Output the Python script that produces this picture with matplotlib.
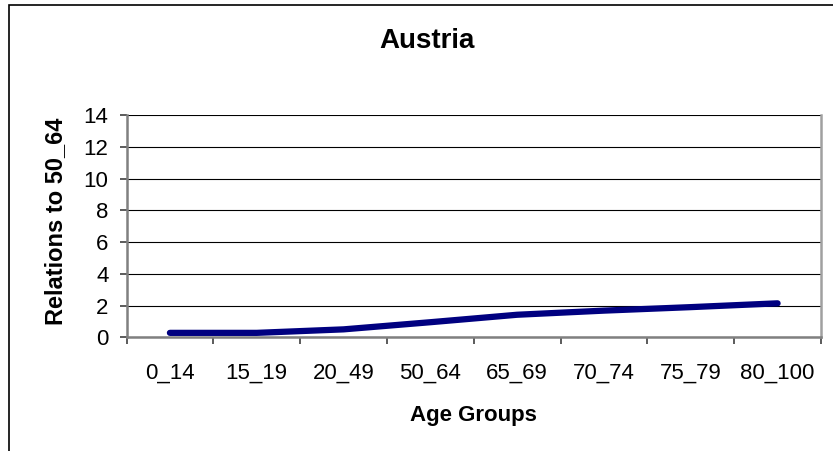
import matplotlib.pyplot as plt
from matplotlib.patches import Rectangle

# data
age_groups = ['0_14', '15_19', '20_49', '50_64', '65_69', '70_74', '75_79', '80_100']
relations = [0.28, 0.28, 0.5, 0.95, 1.42, 1.68, 1.9, 2.14]

plt.rcParams['font.family'] = ['Liberation Sans', 'DejaVu Sans']

W, H = 833, 451
fig = plt.figure(figsize=(W / 100, H / 100), dpi=100)
ax = fig.add_axes([126.5 / W, 1 - 337.3 / H, (821 - 126.5) / W, (337.3 - 115) / H])

x = list(range(len(age_groups)))
ax.plot(x, relations, color='#000080', linewidth=4.5,
        solid_capstyle='round', solid_joinstyle='round', zorder=3)

ax.set_xlim(-0.5, len(age_groups) - 0.5)
ax.set_ylim(0, 14)
ax.set_yticks(range(0, 15, 2))
ax.yaxis.grid(True, color='black', linewidth=0.8)
ax.set_axisbelow(True)

# category labels at centres, tick marks on the boundaries
ax.set_xticks(x)
ax.set_xticklabels(age_groups, fontsize=16)
ax.set_xticks([i - 0.5 for i in range(len(age_groups) + 1)], minor=True)
ax.tick_params(axis='x', which='major', length=0, pad=18)
ax.tick_params(axis='x', which='minor', length=5, width=1.2, color='#404040')
ax.tick_params(axis='y', length=5, width=1.2, color='#404040', labelsize=16, pad=8)

for s in ['left', 'bottom']:
    ax.spines[s].set_color('#808080')
    ax.spines[s].set_linewidth(1.8)
ax.spines['right'].set_color('#a0a0a0')
ax.spines['right'].set_linewidth(1.8)
ax.spines['top'].set_visible(False)

# titles placed like the original chart
fig.text(427 / W, 1 - 48 / H, 'Austria', fontsize=20, fontweight='bold',
         ha='center', va='baseline')
fig.text(473 / W, 1 - 421 / H, 'Age Groups', fontsize=16, fontweight='bold',
         ha='center', va='baseline')
fig.text(56 / W, 1 - 221 / H, 'Relations to 50_64', fontsize=17, fontweight='bold',
         rotation=90, ha='center', va='center')

# outer chart border
fig.patches.append(Rectangle((9 / W, -0.5), 2, 0.5 + 1 - 5 / H,
                             transform=fig.transFigure, fill=False,
                             edgecolor='black', linewidth=1.2))

fig.savefig('out.png', dpi=100)
